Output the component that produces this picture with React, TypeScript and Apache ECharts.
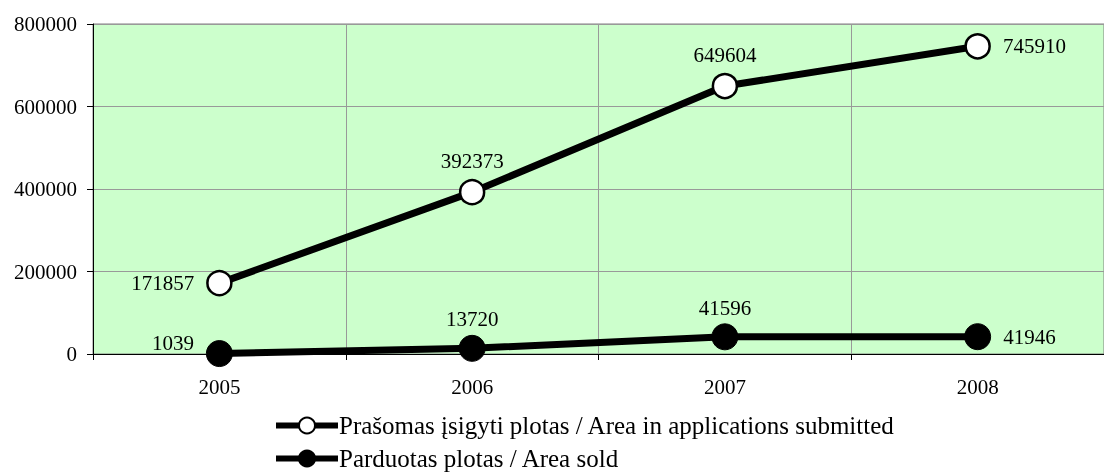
import React, { useEffect, useRef } from "react";
import * as echarts from "echarts";

const years = ["2005", "2006", "2007", "2008"];
const submitted = [171857, 392373, 649604, 745910];
const sold = [1039, 13720, 41596, 41946];
const submittedName = "Prašomas įsigyti plotas / Area in applications submitted";
const soldName = "Parduotas plotas / Area sold";
const submittedLabelPos = ["left", "top", "top", "right"];
const soldLabelPos = ["left", "top", "top", "right"];

const FONT = "'Liberation Serif', 'Times New Roman', serif";

export default function App() {
  const ref = useRef<HTMLDivElement>(null);
  useEffect(() => {
    if (!ref.current) return;
    const chart = echarts.init(ref.current, null, { renderer: "svg" });
    const labelBase = { show: true, color: "#000", fontFamily: FONT, fontSize: 21 };
    const legendBase = {
      orient: "horizontal",
      left: 273,
      itemWidth: 62,
      itemHeight: 20,
      selectedMode: false,
      padding: 0,
      lineStyle: { width: 6, color: "#000" },
      textStyle: { fontFamily: FONT, fontSize: 25, color: "#000", padding: [0, 0, 0, -4] },
    };
    chart.setOption({
      animation: false,
      textStyle: { fontFamily: FONT, color: "#000" },
      grid: {
        left: 93,
        top: 24,
        right: -7,
        bottom: 121,
        show: true,
        backgroundColor: "#CCFFCC",
        borderColor: "#808080",
        borderWidth: 1,
      },
      legend: [
        { ...legendBase, top: 413, data: [submittedName] },
        { ...legendBase, top: 446, data: [soldName] },
      ],
      xAxis: {
        type: "category",
        data: years,
        boundaryGap: true,
        axisLine: { show: true, lineStyle: { color: "#000", width: 1 } },
        axisTick: { show: true, length: 6, lineStyle: { color: "#000" } },
        splitLine: { show: true, lineStyle: { color: "#999", width: 1 } },
        axisLabel: { color: "#000", fontFamily: FONT, fontSize: 21, margin: 22 },
      },
      yAxis: {
        type: "value",
        min: 0,
        max: 800000,
        interval: 200000,
        axisLine: { show: true, lineStyle: { color: "#000", width: 1 } },
        axisTick: { show: true, length: 6, lineStyle: { color: "#000" } },
        splitLine: { show: true, lineStyle: { color: "#999", width: 1 } },
        axisLabel: {
          color: "#000",
          fontFamily: FONT,
          fontSize: 21,
          margin: 16,
          formatter: (v: number) => String(v),
        },
      },
      series: [
        {
          name: submittedName,
          type: "line",
          data: submitted.map((v, i) => ({
            value: v,
            label: { ...labelBase, position: submittedLabelPos[i], distance: i === 1 || i === 2 ? 7 : 12 },
          })),
          symbol: "circle",
          symbolSize: 24,
          showAllSymbol: true,
          lineStyle: { color: "#000", width: 7 },
          itemStyle: { color: "#fff", borderColor: "#000", borderWidth: 2.5 },
          z: 3,
        },
        {
          name: soldName,
          type: "line",
          data: sold.map((v, i) => ({
            value: v,
            label: {
              ...labelBase,
              position: soldLabelPos[i],
              distance: i === 1 || i === 2 ? 5 : 12,
              offset: i === 0 ? [0, -11] : [0, 0],
            },
          })),
          symbol: "circle",
          symbolSize: 26,
          showAllSymbol: true,
          lineStyle: { color: "#000", width: 7 },
          itemStyle: { color: "#000", borderColor: "#000", borderWidth: 1 },
          z: 3,
        },
      ],
    });
    return () => chart.dispose();
  }, []);
  return (
    <div
      ref={ref}
      style={{ position: "fixed", left: 0, top: 0, width: 1104, height: 475 }}
    />
  );
}
